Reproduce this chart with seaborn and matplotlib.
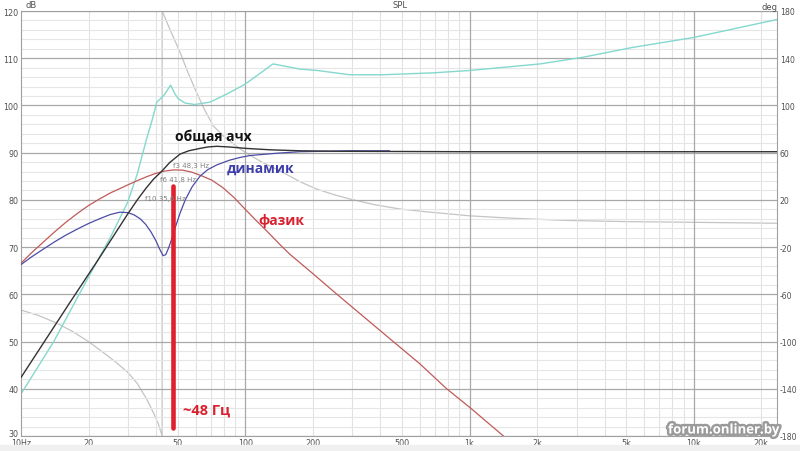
import numpy as np
import pandas as pd
import matplotlib
matplotlib.use("Agg")
import matplotlib.pyplot as plt
import matplotlib.patheffects as pe
from matplotlib.ticker import FixedLocator, NullFormatter
import seaborn as sns

# ---------------- data ----------------
total_f = [10, 16.8, 22, 29.9, 33, 36, 39, 42.4, 46, 51.2, 56, 62.8, 68, 74.6, 85, 101, 130, 175, 250, 500, 1000, 3000, 10000, 23500]
total_db = [42.4, 58.8, 67.2, 77.0, 80.0, 82.4, 84.4, 86.05, 87.9, 89.7, 90.4, 90.9, 91.2, 91.35, 91.2, 90.9, 90.6, 90.4, 90.3, 90.25, 90.2, 90.2, 90.2, 90.2]

driver_f = [10, 11.2, 12.6, 14.1, 15.8, 17.8, 20, 22.4, 25, 27.6, 30, 32, 34, 36, 38, 40, 41.5, 43, 44.2, 45.5, 47, 49, 51.2, 54, 58, 62.8, 68, 74.6, 85, 95, 105, 140, 175, 292, 440]
driver_db = [66.3, 68.0, 69.6, 71.1, 72.5, 73.8, 75.0, 76.0, 76.9, 77.4, 77.3, 76.8, 76.0, 74.8, 73.2, 71.3, 69.6, 68.2, 68.4, 69.8, 71.7, 74.5, 77.2, 80.0, 82.8, 85.0, 86.4, 87.4, 88.4, 89.0, 89.4, 89.9, 90.2, 90.4, 90.4]

port_f = [10, 11.2, 12.6, 14.1, 15.8, 17.8, 20, 22.4, 25.1, 28.2, 30, 33.1, 36.3, 39.8, 43.7, 47.9, 52.5, 57.5, 63.1, 70.8, 79.4, 89.1, 100, 112, 126, 143, 158, 200, 255, 400, 600, 791, 1000, 1400, 1500]
port_db = [66.6, 68.9, 71.1, 73.2, 75.2, 77.1, 78.8, 80.2, 81.5, 82.6, 83.2, 84.1, 84.9, 85.6, 86.1, 86.35, 86.3, 85.9, 85.2, 84.2, 82.6, 80.5, 78.0, 75.6, 73.2, 70.5, 68.5, 64.4, 60.1, 52.3, 45.3, 40.0, 36.1, 30.2, 29.0]

imp_f = [10, 14, 17.7, 21, 25, 29.9, 33, 36.3, 38.5, 40.3, 43.3, 46.5, 48.5, 50.3, 54.0, 59.6, 69.6, 82.6, 99.8, 133, 175, 210, 292, 410, 686, 1000, 2070, 3200, 5360, 10000, 23500]
imp_db = [38.9, 50.0, 59.0, 65.5, 72.0, 79.5, 85.5, 92.9, 97.0, 100.7, 102.1, 104.3, 102.5, 101.4, 100.5, 100.2, 100.7, 102.4, 104.5, 108.8, 107.7, 107.4, 106.5, 106.5, 106.9, 107.4, 108.8, 110.2, 112.3, 114.4, 118.2]

phase_f = [10, 12, 14.4, 17, 19.9, 23, 26.5, 29.9, 33, 36.3, 39, 41, 42.6, 42.6, 46, 51.2, 55.5, 60.6, 66, 71.9, 80, 90, 99.8, 120, 147, 175, 208, 250, 292, 380, 489, 650, 817, 1000, 1500, 2700, 5000, 10000, 23500]
phase_deg = [-73.3, -78.0, -84.3, -91.5, -99.8, -108.5, -117.5, -126.0, -135.5, -148.6, -160.5, -170.0, -180.0, 180.0, 165.0, 145.0, 128.0, 111.1, 96.0, 82.8, 74.0, 66.5, 60.3, 51.5, 43.4, 35.5, 29.2, 24.3, 20.8, 15.8, 12.3, 9.8, 8.1, 6.5, 4.6, 2.6, 1.6, 1.0, 0.2]

marker_f = [47.8, 47.8]
marker_db = [31.6, 83.0]

x_ticks = [10, 20, 50, 100, 200, 500, 1000, 2000, 5000, 10000, 20000]
x_labels = ["10Hz", "20", "50", "100", "200", "500", "1k", "2k", "5k", "10k", "20k"]
db_ticks = [30, 40, 50, 60, 70, 80, 90, 100, 110, 120]
deg_ticks = [-180, -140, -100, -60, -20, 20, 60, 100, 140, 180]

# ---------------- styling ----------------
sns.set_theme(style="white")
plt.rcParams["font.family"] = ["DejaVu Sans"]
plt.rcParams["axes.unicode_minus"] = False

fig = plt.figure(figsize=(8.0, 4.52), dpi=100)
fig.patch.set_facecolor("white")
ax = fig.add_axes([21 / 800, 1 - 437 / 452, (777 - 21) / 800, (437 - 12) / 452])
ax.set_xscale("log")
ax.set_xlim(10, 23500)
ax.set_ylim(30, 120)

# grid
minor_x = [m * d for d in (10, 100, 1000, 10000) for m in range(2, 10) if m * d < 23500]
for fx in minor_x:
    ax.axvline(fx, color="#e2e2e2", lw=0.8, zorder=0)
for fx in (100, 1000, 10000):
    ax.axvline(fx, color="#a8a8a8", lw=0.9, zorder=0.5)
for yy in np.arange(30, 121, 2):
    if yy % 10:
        ax.axhline(yy, color="#e6e6e6", lw=0.8, zorder=0)
for yy in db_ticks:
    ax.axhline(yy, color="#a8a8a8", lw=0.9, zorder=0.5)

pal = {"imp": "#84d8ce", "total": "#333333", "driver": "#4c4ca6", "port": "#c05a5a"}

sns.lineplot(x=imp_f, y=imp_db, ax=ax, color=pal["imp"], lw=1.0, sort=False, estimator=None, zorder=2)
sns.lineplot(x=port_f, y=port_db, ax=ax, color=pal["port"], lw=0.9, sort=False, estimator=None, zorder=3)
sns.lineplot(x=driver_f, y=driver_db, ax=ax, color=pal["driver"], lw=0.9, sort=False, estimator=None, zorder=4)
sns.lineplot(x=total_f, y=total_db, ax=ax, color=pal["total"], lw=1.0, sort=False, estimator=None, zorder=5)
sns.lineplot(x=marker_f, y=marker_db, ax=ax, color="#e0202c", lw=3.3, sort=False, estimator=None, zorder=6)

ax.xaxis.set_major_locator(FixedLocator(x_ticks))
ax.set_xticklabels(x_labels)
ax.xaxis.set_minor_formatter(NullFormatter())
ax.set_yticks(db_ticks)
ax.tick_params(axis="both", which="both", length=0, labelsize=5.8, colors="#505050", pad=2)
ax.tick_params(axis="x", pad=1.5)
for s in ax.spines.values():
    s.set_color("#a0a0a0")
    s.set_linewidth(0.8)
# lowest dB label sits just above the corner, as in the reference
ylabs = ax.get_yticklabels()
ylabs[0].set_verticalalignment("baseline")

ax2 = ax.twinx()
ax2.set_ylim(-180, 180)
ax2.set_yticks(deg_ticks)
ax2.tick_params(axis="y", length=0, labelsize=5.6, colors="#505050", pad=2)
sns.lineplot(x=phase_f, y=phase_deg, ax=ax2, color="#c4c4c4", lw=0.9, sort=False, estimator=None, zorder=1)
for s in ax2.spines.values():
    s.set_visible(False)
ax2.set_zorder(ax.get_zorder() - 1)
ax.patch.set_visible(False)
ax2.patch.set_facecolor("white")
ax2.patch.set_visible(True)
ax.set_xlabel("")
ax.set_ylabel("")
ax2.set_ylabel("")

# annotations
bold = dict(fontweight="bold", family=["Open Sans", "DejaVu Sans"])
ax.text(48.6, 93.7, "общая ачх", color="#111111", fontsize=10, va="center", ha="left", zorder=7, **bold)
ax.text(82.8, 86.75, "динамик", color="#3e3eaa", fontsize=10, va="center", ha="left", zorder=7, **bold)
ax.text(113.9, 75.7, "фазик", color="#d8202e", fontsize=10, va="center", ha="left", zorder=7, **bold)
ax.text(52.8, 35.6, "~48 Гц", color="#d8202e", fontsize=10.5, va="center", ha="left", zorder=7, **bold)
for fx, yy, t in [(47.8, 87.4, "f3 48,3 Hz"), (41.7, 84.4, "f6 41,8 Hz"), (35.7, 80.4, "f10 35,6 Hz")]:
    ax.text(fx, yy, t, color="#808080", fontsize=5, va="center", ha="left", zorder=7)

fig.text(0.5, 1 - 5 / 452, "SPL", fontsize=6, color="#505050", ha="center", va="center")
fig.text(25 / 800, 1 - 5 / 452, "dB", fontsize=6, color="#505050", ha="left", va="center")
fig.text(769 / 800, 1 - 7 / 452, "deg", fontsize=6, color="#505050", ha="center", va="center")

# bottom strip and watermark
fig.patches.append(plt.Rectangle((0, 0), 1, 6 / 452, transform=fig.transFigure, color="#f0f0f0", zorder=0))
fig.text(724 / 800, 1 - 431 / 452, "forum.onliner.by", fontsize=9.5, color="white", fontweight="bold",
         family=["Open Sans", "DejaVu Sans"], ha="center", va="center", zorder=10,
         path_effects=[pe.withStroke(linewidth=3.5, foreground="#9a9a9a")])

fig.savefig("out.png", dpi=100)
